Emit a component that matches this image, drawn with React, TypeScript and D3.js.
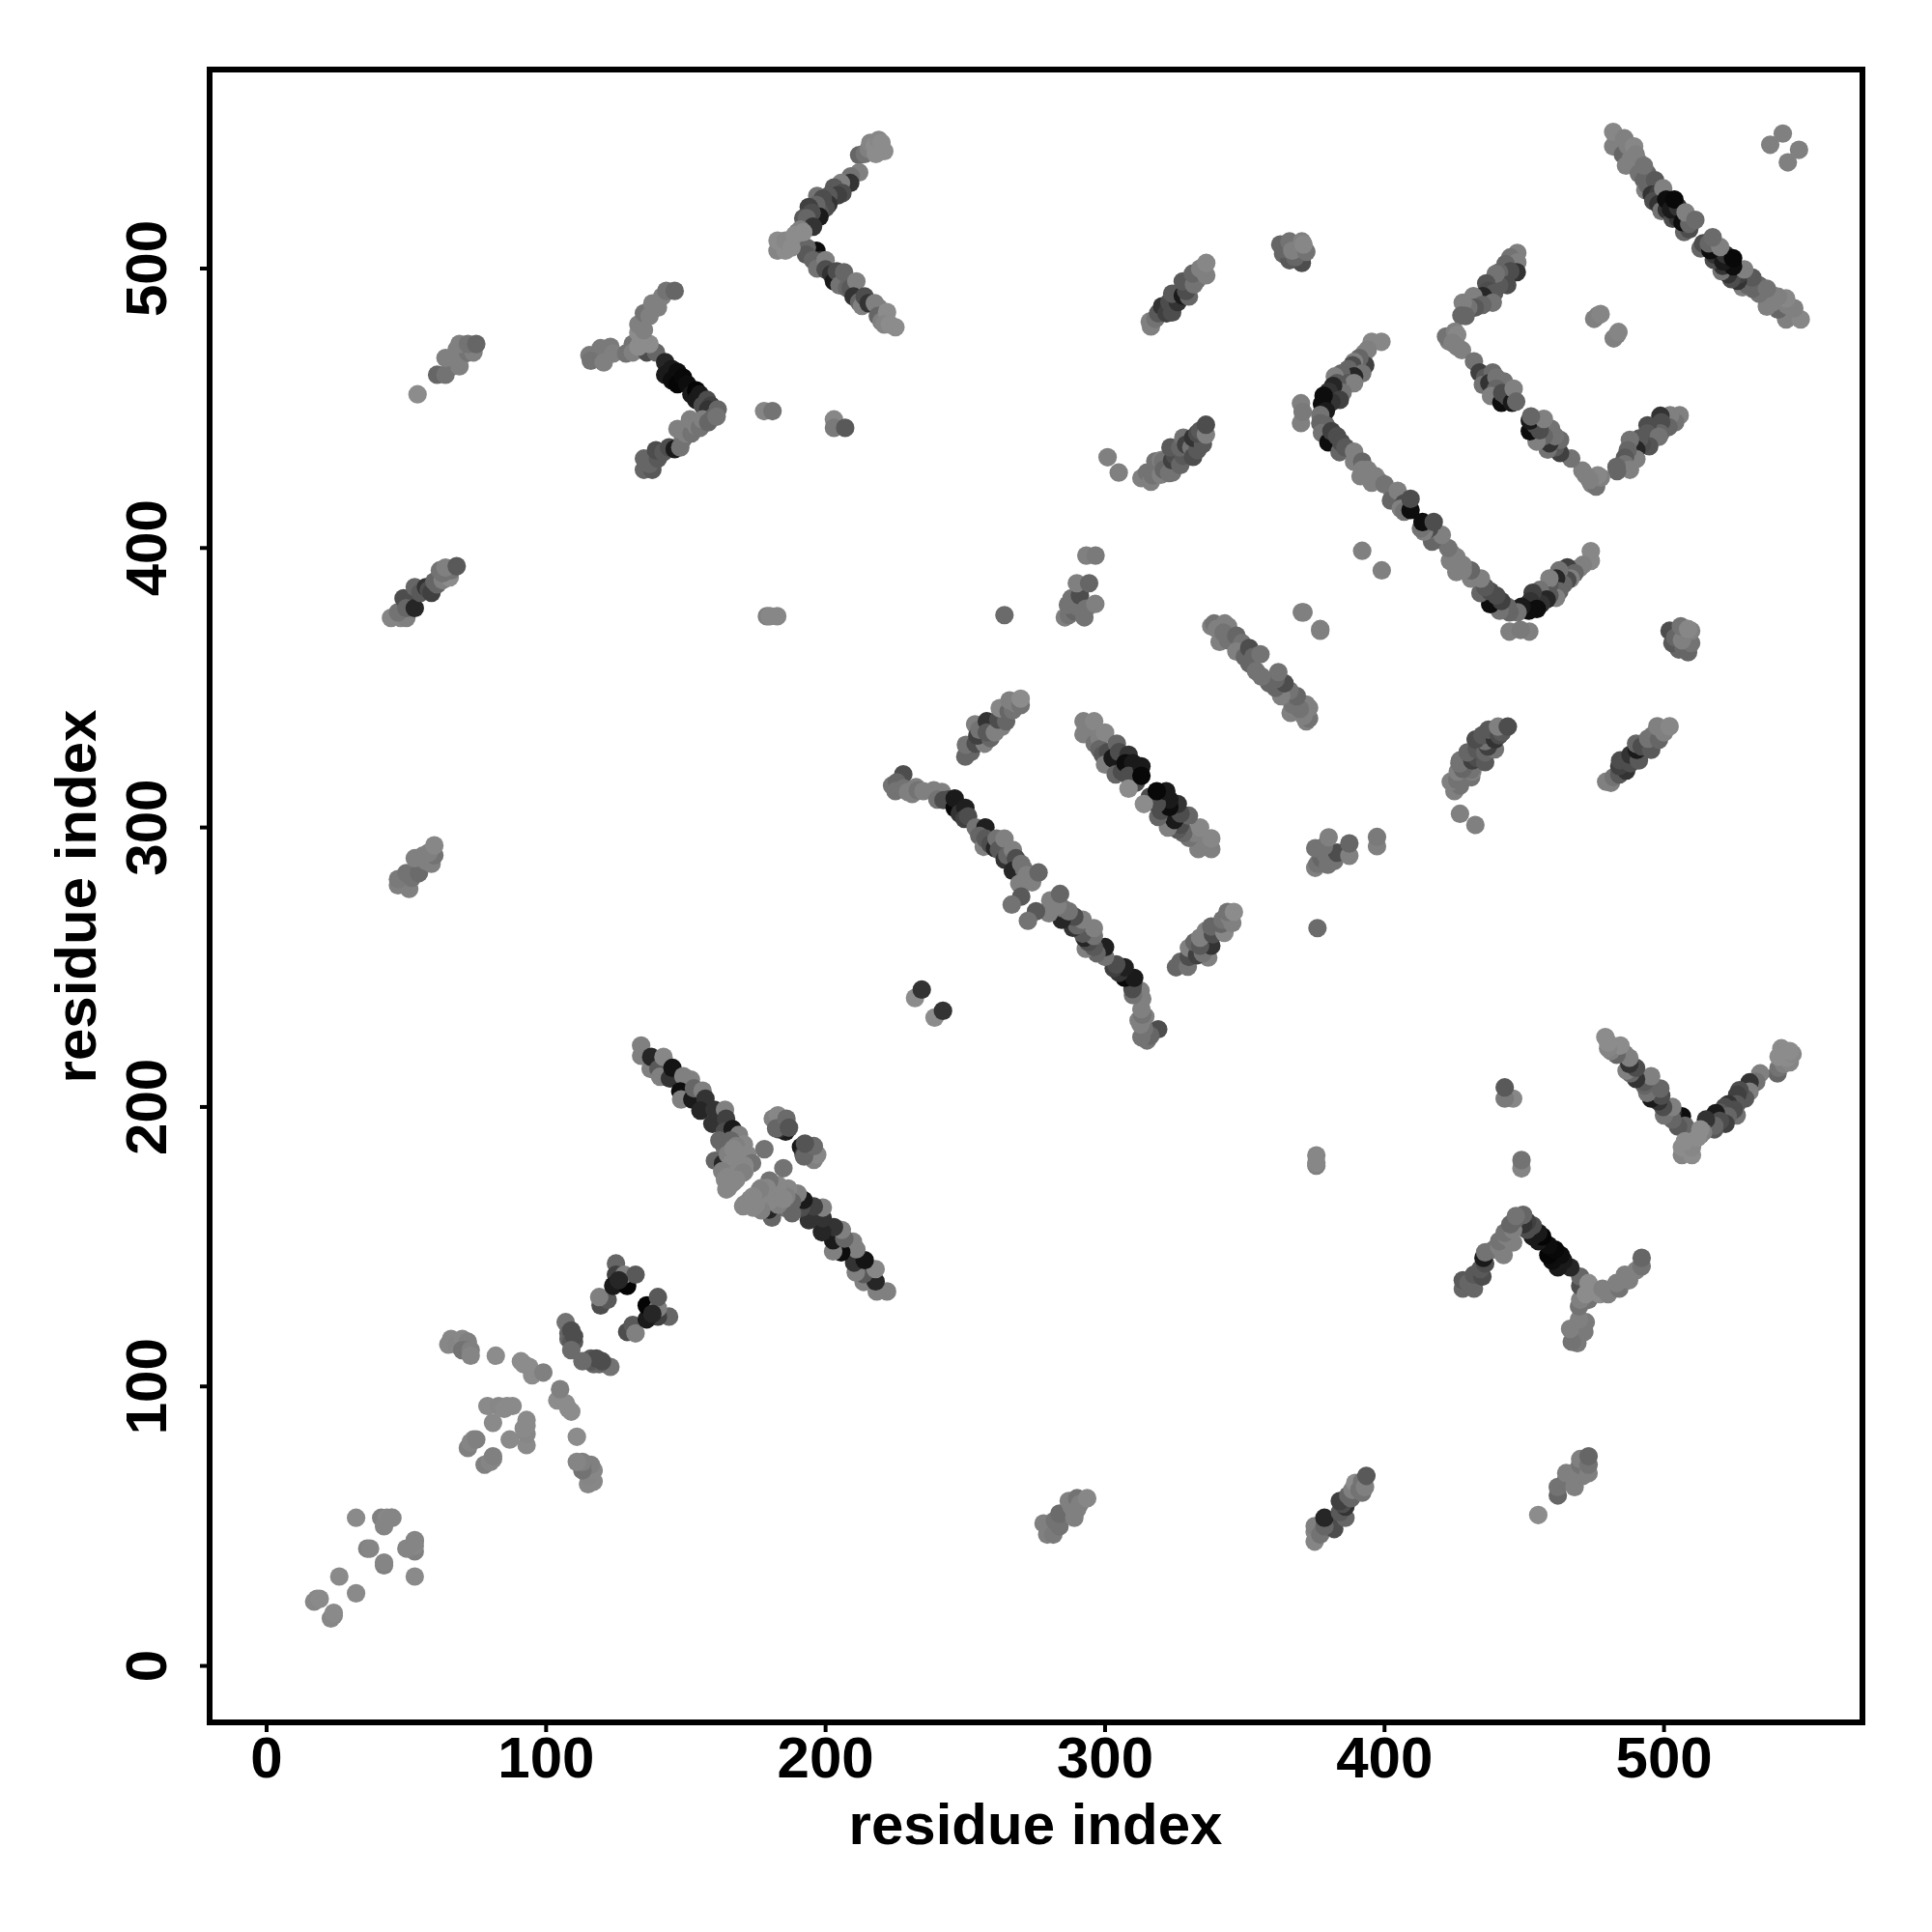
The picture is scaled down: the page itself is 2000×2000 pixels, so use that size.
import React from "react";
import * as d3 from "d3";

type C = [number, number, number];

const tickValues = [0, 100, 200, 300, 400, 500];
const xLabel = "residue index";
const yLabel = "residue index";

// [residue i, residue j, gray level 0..1]; the map is symmetric, so only i<j is listed
const helixStart: C[] = [
  [17,23,.53],[18,24,.53],[19,24,.54],[26,32,.54],[32,53,.54],[36,42,.5],[37,42,.52],[41,53,.5],[43,53,.53],[44.5,53,.52],[42,50,.52],[45,53,.52],
];
const hairpinA: C[] = [
  [82,111,.55],[65,115,.53],[66,117,.53],[68,115,.52],[70,117,.53],[72,116,.5],[70,113,.45],[72,113,.45],[73,113,.5],[73,111,.52],
  [79,93,.54],[83,93,.53],[85,92,.54],[86,93,.54],[88,93,.54],[81,87,.54],[72,78,.5],[73,80,.52],[74,81,.52],[75,81,.5],
  [91,109,.55],[92,108,.55],[94,107,.55],[95,104,.55],[99,105,.5],
];
const hairpinB: C[] = [
  [107,123,.45],[108,119,.4],[108,117,.4],[109,120,.3],[109,116,.35],[110,116,.35],[110,118,.3],[109,113,.42],
  [119.5,129,.3],[122,131,.35],[119,132,.5],[125,144,.4],[125,140,.25],[124,136,.1],[129,136,.02],[128,140,.5],[132,140,.35],[126,138,.15],
];
const bigStrand: C[] = [
  [134,222,.5],[134,218.3,.5],[137.4,213.6,.5],[137.6,217.9,.15],[140.2,213.6,.35],[142,217.9,.53],[140.8,210.8,.5],[144.3,210.2,.2],[145.2,214,.08],
  [149.1,211,.5],[151.8,209.8,.5],[148,205.6,.05],[148.3,202.7,.5],[152.3,202.7,.1],[152.9,206.7,.4],[156,205.8,.5],[157,203,.2],[155.2,198.7,.15],
  [159.5,194,.2],[160.2,199,.2],[164,199,.5],[164.4,195.8,.25],[163.9,191.2,.3],[166.7,192.1,.1],[169,190,.5],[163.9,185.4,.45],[170.8,186.6,.53],
  [160.4,180.8,.4],[163.3,179.7,.15],[162,188,.4],[166,188,.4],[168,186,.5],[165,183,.5],[167.3,183.1,.5],[166.2,179.7,.53],[170,181,.53],[172,183,.53],[167,185,.53],[173.7,179.9,.45],[171,179,.53],
  [163,177,.5],[169,177.4,.53],[168,176,.53],[171,177,.53],[170.5,176.5,.5],[165,175,.53],[164,174,.53],[166.2,172.7,.53],[167,173,.53],[165.2,171,.53],[164.5,170.5,.53],[168,174,.53],
  [178.1,184.9,.45],[185.7,191.2,.1],[181.1,195.8,.5],[182.9,197,.53],[183.1,192.1,.2],[182.3,192.3,.4],[186,195.8,.42],[186.9,192.6,.33],
];
const armY: C[] = [
  [115.5,469,.48],[119.5,471.5,.48],[123,472,.48],[116,467,.45],[120.6,466.4,.5],[124,469.6,.5],[128.6,469.6,.45],[131,473,.45],[131,470,.5],
  [136,470,.3],[139.3,470,.4],[133,472,.55],[137,473,.55],[134,475,.55],[133,477,.55],[133,480,.5],[135,478,.5],[135,484,.45],[137,483,.5],[138,487.5,.5],[140,486,.5],[141.5,490,.5],[143,492,.45],[146,492,.4],
  [142.6,466.5,.15],[142.6,462,.1],[145,464,.1],[145,460,.05],[147,463,.05],[147,458.6,.02],[149,461,.03],[150.5,458.6,.05],[152,455,.1],[153.7,456.4,.02],[153.7,453,.1],[155,455,.1],[156,451,.3],[157.6,453,.3],[159,451,.25],[158,449.6,.2],[161.4,449.6,.4],
  [135,428,.4],[138,428,.35],[137,430,.4],[135,432,.4],[140,432,.35],[139.3,435,.3],[142,434.3,.35],[144,436,.3],[146,435.4,.1],[148,436,.45],[149,439,.45],[150,441,.5],[147,442.6,.5],[152,441,.45],[153.7,443.7,.5],[151.5,446,.5],[155,443,.45],[156,446,.5],[158,445,.4],[160,447,.4],[161,447,.45],
];
const strand50: C[] = [
  [54,455,.55],[61,462,.4],[64,462,.45],[66.5,465,.45],[64,468,.5],[69,465,.5],[67,468,.5],[70,469,.5],[68,471,.5],[72,470,.45],[74,470,.5],[69,473,.5],[72,473,.45],[75,473,.4],
  [44.5,375,.52],[48,375,.52],[50,375,.5],[47,377,.45],[49,382,.3],[51,380,.3],[50,378.5,.4],[53,378.5,.15],[53,386,.4],[55,384,.35],[57,386,.2],[58,385,.3],[59,384,.25],[61,387,.4],[60,388,.4],[63,388.5,.5],[65.5,389.5,.55],[63,391,.45],[62,392,.45],[66,392,.45],[64,393,.5],[68,393.5,.35],
  [47,279.3,.5],[51,278,.5],[49,280,.5],[47,281.5,.48],[50,283.7,.45],[52,282,.45],[54.5,283.7,.42],[53,289,.5],[57,288,.5],[59,287,.5],[60,290,.45],[56,290,.5],[58,291,.5],[60,293.6,.53],
];
const smallContacts: C[] = [
  [178,449,.52],[181,449,.45],[179,375.6,.5],[180,375.6,.53],[182.7,375.6,.53],[203,446,.53],[203,443,.48],[207,443,.35],
  [232,239,.55],[234.4,242,.2],[264,376,.42],[300.9,432.5,.5],[304.9,427,.5],[370.4,377,.5],[371,377,.5],[392,399,.5],
  [293.3,397.3,.5],[296.6,397.3,.48],[542.5,548.3,.5],[538,544.3,.5],
  [475,482,.5],[476.3,483.2,.5],[477.3,483.7,.52],
];
const topV: C[] = [
  [212,540.6,.4],[214,541,.45],[215.4,542.8,.5],[216,545,.52],[218,541,.55],[217.6,544,.55],[221,542,.55],[219,546,.53],[220,545,.55],[212,534.4,.5],[209,533,.45],[208.8,530.6,.2],[205.5,530.6,.5],[203,529,.35],[206,527,.3],[204.4,526.2,.25],[201,526,.35],[197,526,.45],[201,523,.2],[199,525,.3],[200,521.7,.3],[198,520,.35],[196.7,522.8,.4],[194,522,.25],[197.8,518.5,.1],[195,520,.3],[192,518,.35],[193.3,518,.4],[195.5,515,.2],[190,513,.45],[191,514,.5],
  [191,509.7,.5],[196.7,506.4,.05],[193.3,507.5,.4],[193,505,.35],[198,503,.2],[195.5,503,.4],[197,500,.45],[200,503,.5],[200,499.7,.3],[202,498,.2],[203,495.4,.1],[204,499,.3],[205,494,.45],[206.6,498.7,.4],[207.7,493,.4],[209,493,.35],[211,495.4,.5],[210,490,.2],[212,488,.4],[213,486.6,.5],[214,490,.3],[215.4,487.6,.2],[217.6,487.6,.5],[219,486,.5],[218.7,483,.4],[220,481,.5],[222,484.4,.55],[221,480,.52],[223,480,.55],[225,479,.55],
  [182.8,506.4,.52],[182.8,510,.55],[185.6,506.4,.55],[185.6,510,.53],[187.8,507.5,.55],[189,512,.55],[192,513,.55],
];
const chain230: C[] = [
  [227.8,319,.3],[223.8,315,.45],[225.5,316.2,.4],[225,313,.45],[228,314,.45],[229.5,312.7,.5],[231,312,.5],[232.4,314.4,.5],[233,313.3,.45],[235,313,.5],[238.7,313.3,.5],[241.6,312.7,.5],[240,310,.45],[242.2,309.8,.3],[244,310,.3],[246.2,307,.03],[246.2,310.4,.1],[248,305,.2],[250,307,.12],[249.7,303.1,.25],[251,304,.3],
  [253.7,300,.45],[257.2,300,.12],[255,297,.4],[256.6,293.1,.5],[257.2,296,.35],[259,294,.3],[260.6,292.6,.15],[261.2,296,.45],[262,292,.35],[264,296,.5],[264.1,288.5,.2],[265,290,.4],[267,292,.5],[268.1,289,.3],[267,284.5,.15],[270,287,.45],[271,285,.45],[272,283,.5],[269.3,279.9,.5],[273.9,280.4,.5],[276.2,283.9,.4],[270,275.3,.35],[266.6,272.4,.45],
];
const sheet250: C[] = [
  [250,325.4,.4],[252,327,.4],[250.2,329.6,.45],[253.7,330,.3],[256.9,330,.5],[253.5,336.9,.5],[254.3,332.9,.25],[255,335,.45],[257.7,338,.2],[259,332,.4],[257.7,334,.35],[260.6,334,.5],[263,336,.5],[261.8,338.6,.3],[264.6,338,.4],[262.3,342.7,.53],[265.5,341.5,.4],[267,342,.45],[265.8,345.5,.5],[268,344.5,.5],[269.8,343.8,.45],[269.8,346.1,.55],
];
const sheet290: C[] = [
  [292.3,338,.5],[292.3,333.4,.5],[294,335,.5],[296.1,338,.53],[296.3,330,.45],[298,332,.5],[298,328,.4],[300,334,.53],[299.2,326,.35],[301,327,.3],[300,322.5,.5],[304.2,330,.4],[302.7,324.8,.1],[305,327,.3],[303.8,319,.4],[306,320,.3],[308.4,326,.2],[307.3,323,.05],[310,323,.1],[308.4,318.5,.3],[311,316,.3],[308.4,313.9,.55],[313,321.9,.1],[313,318.5,.03],
];
const cluster285: C[] = [
  [285.6,375.2,.5],[287,376,.45],[289,377.4,.4],[292.6,375.2,.45],[286.7,379.7,.45],[290,379,.45],[288,382,.45],[291,383,.3],[289.9,387.4,.5],[294.3,387.4,.4],[293.2,378.3,.45],[296.5,380,.5],
];
const cluster320: C[] = [
  [313,425,.5],[315,425,.5],[315,427,.45],[316.4,423.7,.5],[317,426,.45],[318.6,428,.45],[318,431,.45],[320,426.2,.5],[320,431.4,.5],[320.7,431,.45],[321,428,.4],[322.9,426.8,.45],[324,427,.45],[324,431.4,.25],[325,433,.3],[326.9,429.7,.4],[323.4,436,.35],[328,433,.35],[326.9,436,.4],[328,439.5,.45],[329,437,.25],[330.9,436,.45],[331.5,432.6,.3],[333,435,.35],[331.5,439.5,.2],[335,437.2,.35],[333,441,.3],[334,442,.35],[336.1,440.6,.5],[336.1,444.1,.3],
];
const cluster316: C[] = [
  [316.4,479.3,.5],[316,481,.5],[318,482,.45],[319,484,.35],[320.4,486.5,.2],[322,484,.25],[324,484.3,.3],[323,488,.3],[326,488,.2],[324,491,.35],[327.8,490.3,.1],[330,490,.4],[329,492,.3],[327.8,495.4,.35],[331.8,494.3,.45],[333,496,.45],[331.4,498.2,.4],[336.2,497.6,.5],[334,500,.5],[336.2,502,.53],
];
const cluster360: C[] = [
  [363.7,505.3,.4],[366,503,.35],[370.4,502,.3],[368,504,.4],[364,507,.4],[362.7,508.6,.4],[366,509.7,.45],[367,506.4,.5],[372,506,.45],[370.4,509.7,.5],[371,508.6,.53],
];
const strand340: C[] = [
  [338,372,.5],[339,373,.45],[340,371,.5],[342.8,373,.5],[341,366.4,.5],[344,372,.5],[342.4,369.7,.45],[344,367,.45],[347,368.6,.4],[349,366,.45],[347,363,.5],[350,361,.4],[351.6,358.7,.4],[351.6,364.2,.3],[353,361,.4],[354,356,.45],[355.6,362,.45],
];
const chainL: C[] = [
  [398.9,473.8,.53],[395.4,473.8,.53],[394,471,.5],[392.8,469.7,.5],[393.1,465.4,.25],[391,468,.4],[389.1,466.6,.5],[388.5,465.4,.3],[392,462.5,.45],[387,464,.4],[389.1,461.4,.15],[384.5,462.5,.4],[382.2,461.4,.5],[387,459,.35],[389.1,459,.5],[383,459,.35],[385,455.6,.45],[381.6,458,.15],[380,456,.2],[384,453,.25],[381,452.2,.2],[378.2,454.5,.05],[377.6,451.6,.05],
  [370.1,451.8,.5],[370.1,444.7,.5],[370.7,448.7,.48],[379,449,.1],[377,447.6,.45],[377,444.7,.4],[379,444,.4],[377.6,441.2,.45],[379.9,437.8,.05],[381,441.8,.25],[383,440,.3],[383.9,434.3,.4],[384.5,437.8,.3],[386,436,.35],[389.1,434.5,.5],[389.1,430.9,.5],[392,430.9,.4],[391.4,425.7,.5],[392,428,.5],[394,428,.5],[396.8,425.7,.5],[395.4,423.4,.5],[398,424,.5],[400,422.8,.45],[403,419,.45],[402.3,417,.4],[404.7,420.5,.5],[407,416,.3],[405.8,414.1,.5],[407,413,.45],[409.3,413.6,.05],[409.3,417.6,.3],
];
const chainBox: C[] = [
  [447.5,505.6,.5],[445,504,.45],[447.5,502.2,.5],[447.3,498.7,.2],[443.3,501.6,.4],[445,499,.3],[441,498.7,.4],[443.9,494.1,.3],[441,494,.35],[439.8,498.1,.45],[436.4,494.7,.33],[437,492,.3],[439.2,491.2,.35],[435.2,490.1,.15],[431.8,490.1,.5],[438.7,487.8,.45],[435,487,.4],[432.3,486,.35],[430,486,.45],[428,487.8,.5],[429,483,.4],[427.5,483.2,.4],
  [423,474,.5],[422,475.7,.45],[425.2,477.4,.5],[426,476.3,.53],[424.3,473.4,.5],[426,472,.5],[427.7,470.8,.5],[432,466.8,.45],[434,462.8,.25],[436,461,.35],[438.7,462.8,.42],[435.2,458.4,.45],[437.5,459,.2],[440,461,.45],[442.7,459.6,.45],[440,457,.4],[438.1,454.4,.5],[441.8,452,.05],[444,454,.3],[442.1,455.5,.3],[445.6,452,.1],[446.2,457,.5],[447.1,452.4,.4],
];
const strand480: C[] = [
  [481.8,543.7,.5],[483,546,.5],[481.8,548.9,.53],[484,543,.5],[485.3,540.8,.4],[486.4,536.8,.5],[488,539,.5],[487,544,.5],[485.8,546.6,.5],[489.3,543.7,.53],[489.9,540.8,.5],[491,538,.5],[491,534,.45],[492.8,531.6,.4],[493.3,528.1,.5],[494,530,.4],[494,534,.4],[492.8,536.8,.45],[496.8,531.6,.35],[495.6,526.4,.2],[498,527,.25],[496.2,524.1,.3],[498,523,.2],[499.1,520.6,.45],[499.7,528.7,.5],[501,521,.2],[500.8,524.7,.05],[503.1,517.8,.3],[505,518,.2],[502.5,521.2,.1],[505,522,.2],[503.7,524.7,.03],[507.2,513.1,.4],[509,514,.3],[506.6,516.6,.05],[509,516,.4],[507.7,520.1,.5],[511.2,517.4,.42],
];

const groups: C[][] = [
  helixStart, hairpinA, hairpinB, bigStrand, armY, strand50, smallContacts, topV, chain230, sheet250, sheet290,
  cluster285, cluster320, cluster316, cluster360, strand340, chainL, chainBox, strand480,
];

const left = 217, right = 1928, top = 72, bottom = 1783;

export default function App() {
  const x = d3.scaleLinear().domain([-20.4, 571]).range([left, right]);
  const y = d3.scaleLinear().domain([-20.2, 571.2]).range([bottom, top]);
  const contacts = groups.flat();
  const color = (g: number) => d3.rgb(g * 255, g * 255, g * 255).formatHex();
  const font = "'Liberation Sans', Arial, sans-serif";
  return (
    <svg width={2000} height={2000} style={{ position: "absolute", left: 0, top: 0, background: "#fff" }}>
      {contacts.map(([i, j, g], k) => (
        <g key={k} fill={color(g)}>
          <circle cx={x(i)} cy={y(j)} r={9.6} />
          <circle cx={x(j)} cy={y(i)} r={9.6} />
        </g>
      ))}
      <rect x={left} y={top} width={right - left} height={bottom - top} fill="none" stroke="#000" strokeWidth={6} />
      {tickValues.map((t) => (
        <g key={t}>
          <line x1={x(t)} x2={x(t)} y1={bottom} y2={bottom + 10} stroke="#000" strokeWidth={4} />
          <text x={x(t)} y={1840} textAnchor="middle" fontFamily={font} fontWeight={700} fontSize={60}>{t}</text>
          <line x1={left} x2={left - 10} y1={y(t)} y2={y(t)} stroke="#000" strokeWidth={4} />
          <text transform={`translate(172,${y(t)}) rotate(-90)`} textAnchor="middle" fontFamily={font} fontWeight={700} fontSize={60}>{t}</text>
        </g>
      ))}
      <text x={1072} y={1909} textAnchor="middle" fontFamily={font} fontWeight={700} fontSize={60}>{xLabel}</text>
      <text transform="translate(99,928) rotate(-90)" textAnchor="middle" fontFamily={font} fontWeight={700} fontSize={60}>{yLabel}</text>
    </svg>
  );
}
